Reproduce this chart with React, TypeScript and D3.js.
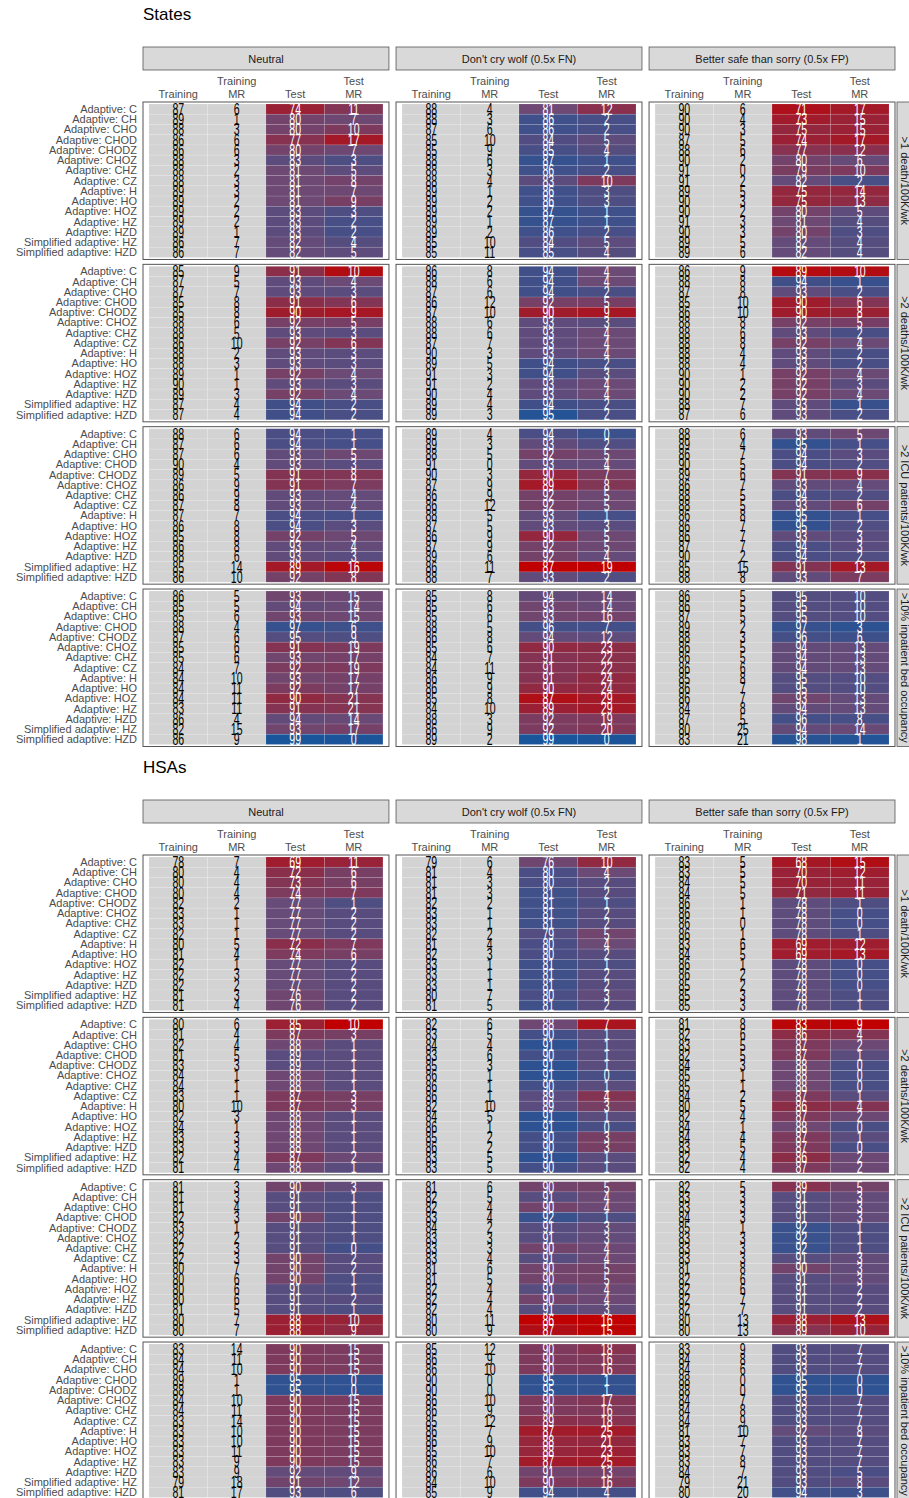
import * as d3 from "d3";

const models = [
  "Adaptive: C", "Adaptive: CH", "Adaptive: CHO", "Adaptive: CHOD", "Adaptive: CHODZ",
  "Adaptive: CHOZ", "Adaptive: CHZ", "Adaptive: CZ", "Adaptive: H", "Adaptive: HO",
  "Adaptive: HOZ", "Adaptive: HZ", "Adaptive: HZD", "Simplified adaptive: HZ", "Simplified adaptive: HZD",
];
const weightings = ["Neutral", "Don't cry wolf (0.5x FN)", "Better safe than sorry (0.5x FP)"];
const outcomes = [">1 death/100K/wk", ">2 deaths/100K/wk", ">2 ICU patients/100K/wk", ">10% inpatient bed occupancy"];
const measures = ["Training", "Training MR", "Test", "Test MR"];

// each panel: [Training, Training MR, Test, Test MR]
const statesD1Neutral = [
  [87, 89, 88, 86, 86, 88, 88, 88, 89, 89, 89, 89, 89, 86, 86],
  [6, 1, 3, 6, 6, 3, 2, 3, 3, 2, 2, 2, 1, 7, 7],
  [74, 80, 80, 77, 80, 83, 81, 81, 81, 81, 83, 83, 83, 82, 82],
  [11, 7, 10, 17, 7, 3, 5, 8, 7, 9, 3, 2, 2, 4, 5],
];
const statesD1Wolf = [
  [88, 88, 87, 85, 85, 88, 88, 88, 89, 89, 89, 89, 89, 85, 85],
  [4, 3, 6, 10, 9, 6, 3, 4, 1, 2, 2, 1, 2, 10, 11],
  [81, 86, 86, 84, 85, 87, 86, 83, 86, 86, 87, 87, 86, 84, 85],
  [12, 2, 2, 5, 4, 1, 2, 10, 3, 3, 1, 1, 2, 5, 4],
];
const statesD1Safe = [
  [90, 90, 90, 87, 88, 90, 91, 91, 89, 90, 90, 91, 90, 89, 89],
  [6, 4, 3, 5, 6, 2, 0, 2, 5, 3, 2, 3, 3, 5, 6],
  [71, 73, 75, 74, 77, 80, 79, 82, 75, 75, 80, 81, 80, 82, 82],
  [17, 15, 15, 17, 12, 6, 10, 2, 14, 13, 5, 4, 3, 4, 4],
];
const statesD2Neutral = [
  [85, 87, 87, 85, 85, 88, 88, 86, 88, 88, 89, 90, 89, 87, 87],
  [9, 5, 7, 8, 8, 6, 5, 10, 2, 3, 1, 1, 3, 4, 4],
  [91, 93, 93, 91, 90, 92, 93, 92, 93, 93, 92, 93, 92, 94, 94],
  [10, 4, 3, 6, 9, 5, 3, 6, 3, 3, 4, 3, 4, 2, 2],
];
const statesD2Wolf = [
  [86, 88, 87, 86, 87, 88, 88, 87, 90, 89, 91, 91, 90, 89, 89],
  [8, 6, 6, 12, 10, 6, 6, 7, 3, 5, 3, 2, 4, 4, 3],
  [94, 94, 94, 92, 90, 93, 93, 93, 93, 94, 94, 93, 93, 94, 95],
  [4, 4, 2, 5, 9, 3, 4, 4, 4, 2, 3, 4, 4, 2, 2],
];
const statesD2Safe = [
  [86, 88, 87, 85, 86, 88, 88, 88, 88, 88, 90, 90, 90, 88, 87],
  [9, 8, 8, 10, 10, 8, 6, 8, 4, 4, 1, 2, 2, 7, 6],
  [89, 94, 93, 90, 90, 92, 93, 92, 93, 93, 92, 92, 92, 93, 93],
  [10, 1, 2, 6, 8, 5, 2, 4, 2, 2, 4, 3, 4, 1, 2],
];
const statesIcuNeutral = [
  [88, 87, 87, 90, 89, 86, 86, 87, 87, 86, 85, 86, 88, 85, 86],
  [6, 6, 6, 4, 5, 9, 9, 8, 7, 8, 8, 8, 6, 14, 10],
  [94, 94, 93, 93, 91, 91, 93, 93, 94, 94, 92, 93, 93, 89, 92],
  [1, 1, 5, 3, 8, 7, 4, 4, 1, 3, 5, 4, 3, 16, 8],
];
const statesIcuWolf = [
  [89, 89, 88, 91, 90, 87, 86, 86, 88, 87, 86, 87, 89, 86, 88],
  [4, 3, 5, 0, 3, 9, 9, 12, 5, 5, 9, 9, 6, 11, 7],
  [94, 93, 92, 93, 90, 89, 92, 92, 93, 93, 90, 92, 92, 87, 93],
  [0, 2, 5, 4, 7, 8, 5, 5, 1, 3, 5, 5, 4, 19, 2],
];
const statesIcuSafe = [
  [88, 89, 86, 90, 89, 86, 88, 88, 86, 86, 86, 87, 90, 85, 88],
  [6, 4, 7, 5, 6, 7, 5, 5, 8, 7, 7, 7, 2, 15, 8],
  [93, 95, 94, 94, 91, 93, 94, 93, 95, 95, 93, 94, 94, 91, 93],
  [5, 1, 3, 2, 9, 4, 2, 6, 1, 2, 3, 3, 2, 13, 7],
];
const statesBedNeutral = [
  [86, 85, 85, 88, 87, 85, 85, 84, 84, 84, 84, 83, 86, 82, 86],
  [5, 5, 6, 4, 6, 6, 6, 7, 10, 11, 11, 11, 4, 15, 9],
  [93, 94, 93, 97, 95, 91, 93, 92, 93, 92, 90, 91, 94, 93, 99],
  [15, 14, 15, 6, 9, 19, 17, 19, 17, 17, 21, 21, 14, 17, 0],
];
const statesBedWolf = [
  [85, 85, 85, 88, 86, 85, 84, 84, 86, 86, 85, 84, 88, 86, 89],
  [8, 6, 6, 5, 8, 6, 7, 11, 9, 9, 8, 10, 3, 9, 2],
  [94, 93, 93, 96, 94, 90, 91, 91, 91, 90, 87, 89, 92, 92, 99],
  [14, 14, 16, 7, 12, 23, 22, 22, 24, 24, 29, 29, 19, 20, 0],
];
const statesBedSafe = [
  [86, 86, 87, 89, 88, 86, 86, 86, 85, 86, 86, 84, 87, 80, 83],
  [5, 5, 5, 2, 3, 5, 5, 6, 8, 7, 7, 8, 5, 25, 21],
  [95, 95, 95, 97, 96, 94, 94, 94, 95, 95, 93, 94, 96, 94, 98],
  [10, 10, 10, 3, 6, 13, 13, 13, 10, 10, 13, 13, 8, 14, 1],
];

const hsaD1Neutral = [
  [78, 80, 80, 80, 82, 83, 83, 82, 80, 81, 82, 82, 82, 81, 81],
  [7, 4, 4, 4, 2, 1, 1, 1, 5, 4, 1, 3, 2, 3, 4],
  [69, 72, 73, 74, 77, 77, 77, 77, 72, 74, 77, 77, 77, 76, 76],
  [11, 6, 6, 7, 1, 2, 2, 2, 7, 6, 2, 2, 2, 2, 2],
];
const hsaD1Wolf = [
  [79, 81, 81, 81, 82, 83, 83, 82, 81, 82, 83, 83, 83, 80, 81],
  [6, 4, 3, 3, 2, 1, 1, 2, 4, 3, 1, 1, 1, 7, 5],
  [76, 80, 80, 81, 81, 81, 81, 79, 80, 80, 81, 81, 81, 80, 81],
  [10, 4, 2, 2, 1, 2, 2, 5, 4, 2, 1, 2, 2, 3, 2],
];
const hsaD1Safe = [
  [83, 83, 84, 84, 86, 86, 86, 86, 83, 84, 86, 86, 85, 85, 85],
  [5, 5, 5, 5, 1, 1, 0, 1, 6, 5, 1, 2, 2, 3, 3],
  [68, 70, 70, 71, 78, 78, 78, 78, 69, 69, 78, 78, 78, 78, 78],
  [15, 12, 11, 11, 1, 0, 0, 1, 12, 13, 0, 0, 0, 1, 1],
];
const hsaD2Neutral = [
  [80, 81, 82, 81, 83, 84, 84, 83, 80, 82, 84, 83, 83, 82, 81],
  [6, 4, 4, 5, 3, 1, 1, 1, 10, 3, 1, 3, 3, 4, 4],
  [85, 87, 88, 89, 89, 88, 88, 87, 87, 88, 88, 88, 88, 87, 88],
  [10, 3, 1, 1, 1, 1, 1, 3, 3, 1, 1, 1, 1, 2, 1],
];
const hsaD2Wolf = [
  [82, 83, 84, 83, 85, 86, 86, 86, 82, 84, 86, 85, 86, 83, 83],
  [6, 5, 4, 6, 3, 1, 1, 1, 10, 5, 1, 2, 2, 5, 5],
  [88, 90, 91, 90, 91, 91, 90, 89, 89, 91, 91, 90, 90, 91, 90],
  [7, 1, 1, 1, 1, 0, 1, 4, 3, 1, 0, 3, 3, 1, 1],
];
const hsaD2Safe = [
  [81, 82, 83, 82, 84, 85, 85, 84, 80, 82, 84, 84, 83, 82, 82],
  [8, 6, 5, 5, 3, 1, 1, 2, 5, 4, 1, 4, 5, 4, 4],
  [83, 86, 87, 87, 88, 88, 88, 87, 86, 87, 88, 87, 87, 86, 87],
  [9, 4, 2, 1, 0, 0, 0, 1, 4, 2, 0, 1, 0, 2, 2],
];
const hsaIcuNeutral = [
  [81, 81, 81, 82, 83, 82, 82, 82, 80, 80, 80, 80, 81, 80, 80],
  [3, 3, 4, 3, 1, 2, 3, 3, 7, 6, 6, 6, 5, 7, 7],
  [90, 91, 91, 90, 91, 91, 91, 90, 90, 90, 91, 91, 91, 88, 88],
  [3, 1, 1, 1, 1, 1, 0, 2, 2, 1, 1, 2, 1, 10, 9],
];
const hsaIcuWolf = [
  [81, 82, 82, 83, 84, 83, 83, 83, 81, 81, 82, 82, 82, 80, 80],
  [6, 5, 4, 4, 2, 3, 3, 4, 6, 5, 4, 4, 4, 11, 9],
  [90, 91, 90, 92, 91, 91, 90, 91, 90, 90, 91, 90, 91, 86, 87],
  [5, 4, 4, 1, 3, 3, 4, 4, 5, 5, 4, 4, 3, 16, 15],
];
const hsaIcuSafe = [
  [82, 83, 83, 84, 85, 83, 83, 83, 81, 82, 82, 82, 82, 80, 80],
  [5, 3, 3, 3, 1, 3, 3, 3, 8, 6, 6, 7, 7, 13, 13],
  [89, 91, 91, 91, 92, 92, 92, 91, 90, 91, 91, 91, 91, 88, 89],
  [5, 3, 3, 3, 1, 1, 1, 3, 3, 3, 2, 2, 2, 13, 10],
];
const hsaBedNeutral = [
  [83, 84, 84, 89, 88, 84, 84, 83, 83, 83, 83, 83, 83, 79, 81],
  [14, 11, 10, 1, 1, 10, 11, 14, 10, 10, 11, 9, 9, 18, 17],
  [90, 90, 90, 95, 95, 90, 90, 90, 90, 90, 90, 90, 92, 91, 93],
  [15, 15, 15, 0, 0, 15, 15, 15, 15, 15, 15, 15, 9, 12, 6],
];
const hsaBedWolf = [
  [85, 86, 86, 90, 90, 86, 86, 85, 86, 86, 85, 86, 86, 84, 85],
  [12, 9, 10, 0, 0, 10, 9, 12, 7, 9, 10, 7, 6, 10, 9],
  [90, 90, 90, 95, 95, 90, 90, 89, 87, 88, 88, 87, 91, 90, 94],
  [18, 16, 16, 1, 1, 17, 16, 18, 25, 21, 23, 25, 13, 16, 4],
];
const hsaBedSafe = [
  [83, 84, 84, 88, 88, 84, 84, 84, 81, 83, 83, 83, 84, 79, 80],
  [9, 8, 6, 0, 0, 7, 8, 9, 10, 7, 7, 8, 7, 21, 20],
  [93, 93, 93, 95, 95, 93, 93, 93, 92, 93, 93, 93, 93, 93, 94],
  [7, 7, 7, 0, 0, 7, 7, 7, 8, 7, 7, 7, 5, 8, 3],
];

const statesPanels = [
  [statesD1Neutral, statesD1Wolf, statesD1Safe],
  [statesD2Neutral, statesD2Wolf, statesD2Safe],
  [statesIcuNeutral, statesIcuWolf, statesIcuSafe],
  [statesBedNeutral, statesBedWolf, statesBedSafe],
];
const hsaPanels = [
  [hsaD1Neutral, hsaD1Wolf, hsaD1Safe],
  [hsaD2Neutral, hsaD2Wolf, hsaD2Safe],
  [hsaIcuNeutral, hsaIcuWolf, hsaIcuSafe],
  [hsaBedNeutral, hsaBedWolf, hsaBedSafe],
];

const FONT = "'Liberation Sans', Arial, Helvetica, sans-serif";

// red = worse, blue = better (z-score within each outcome row)
const fillScale = d3
  .scaleLinear<string>()
  .domain([-3.2, 0, 2.8])
  .range(["#c00000", "#6b4a76", "#0058a6"])
  .interpolate(d3.interpolateRgb)
  .clamp(true);

function Section({ title, panels, top }: { title: string; panels: number[][][][]; top: number }) {
  const fx = d3.scaleBand<string>().domain(weightings).range([143, 895]).paddingInner(0.028);
  const fy = d3.scaleBand<string>().domain(outcomes).range([102, 746.5]).paddingInner(0.03);
  const cx = d3.scaleBand<string>().domain(measures).range([6, fx.bandwidth() - 6]);
  const ry = d3.scaleBand<string>().domain(models).range([2, fy.bandwidth() - 2]);

  return (
    <g transform={`translate(0,${top})`}>
      <text x={143} y={20} fontSize={17} fill="#000">{title}</text>

      {weightings.map((w) => (
        <g key={w} transform={`translate(${fx(w)},0)`}>
          <rect x={0} y={47} width={fx.bandwidth()} height={23} fill="#d9d9d9" stroke="#555" strokeWidth={0.8} />
          <text x={fx.bandwidth() / 2} y={62.5} textAnchor="middle" fontSize={11} fill="#1a1a1a">{w}</text>
          {measures.map((m) => {
            const parts = m.split(" ");
            const x = (cx(m) ?? 0) + cx.bandwidth() / 2;
            return (
              <text key={m} x={x} textAnchor="middle" fontSize={11} fill="#4d4d4d">
                {parts.length === 1 ? (
                  <tspan x={x} y={98}>{parts[0]}</tspan>
                ) : (
                  <>
                    <tspan x={x} y={85}>{parts[0]}</tspan>
                    <tspan x={x} y={98}>{parts[1]}</tspan>
                  </>
                )}
              </text>
            );
          })}
        </g>
      ))}

      {outcomes.map((o, oi) => {
        const testAll = panels[oi].flatMap((p) => p[2]);
        const mrAll = panels[oi].flatMap((p) => p[3]);
        const tMean = d3.mean(testAll) ?? 0;
        const tSd = d3.deviation(testAll) || 1;
        const mMean = d3.mean(mrAll) ?? 0;
        const mSd = d3.deviation(mrAll) || 1;
        const y0 = fy(o) ?? 0;
        return (
          <g key={o} transform={`translate(0,${y0})`}>
            {models.map((name) => (
              <text
                key={name}
                x={137}
                y={(ry(name) ?? 0) + ry.bandwidth() / 2}
                dy="0.35em"
                textAnchor="end"
                fontSize={11}
                fill="#4d4d4d"
              >
                {name}
              </text>
            ))}
            {weightings.map((w, wi) => {
              const panel = panels[oi][wi];
              return (
                <g key={w} transform={`translate(${fx(w)},0)`}>
                  <rect x={0} y={0} width={fx.bandwidth()} height={fy.bandwidth()} fill="#fff" />
                  {measures.map((m, mi) =>
                    panel[mi].map((v, ri) => {
                      let fill = "#d3d3d3";
                      if (mi === 2) fill = fillScale((v - tMean) / tSd);
                      if (mi === 3) fill = fillScale(-(v - mMean) / mSd);
                      return (
                        <rect
                          key={`${m}-${ri}`}
                          x={cx(m) ?? 0}
                          y={ry(models[ri]) ?? 0}
                          width={cx.bandwidth()}
                          height={ry.bandwidth()}
                          fill={fill}
                          stroke="#ffffff"
                          strokeOpacity={0.18}
                          strokeWidth={0.6}
                        />
                      );
                    })
                  )}
                  {measures.map((m, mi) =>
                    panel[mi].map((v, ri) => {
                      const x = (cx(m) ?? 0) + cx.bandwidth() / 2;
                      const y = (ry(models[ri]) ?? 0) + ry.bandwidth() / 2;
                      return (
                        <text
                          key={`t-${m}-${ri}`}
                          transform={`translate(${x},${y}) scale(0.66,1)`}
                          dy="0.36em"
                          textAnchor="middle"
                          fontSize={16}
                          fill={mi >= 2 ? "#ffffff" : "#000000"}
                        >
                          {v}
                        </text>
                      );
                    })
                  )}
                  <rect x={0} y={0} width={fx.bandwidth()} height={fy.bandwidth()} fill="none" stroke="#555" strokeWidth={1} />
                </g>
              );
            })}
            <rect x={897} y={0} width={20} height={fy.bandwidth()} fill="#d9d9d9" stroke="#555" strokeWidth={0.8} />
            <text
              transform={`translate(905,${fy.bandwidth() / 2}) rotate(90)`}
              textAnchor="middle"
              dy="0.35em"
              fontSize={11}
              fill="#1a1a1a"
            >
              {o}
            </text>
          </g>
        );
      })}
    </g>
  );
}

export default function App() {
  return (
    <svg
      width={909}
      height={1498}
      fontFamily={FONT}
      style={{ position: "absolute", left: 0, top: 0, display: "block", background: "#fff" }}
    >
      <rect width={909} height={1498} fill="#fff" />
      <Section title="States" panels={statesPanels} top={0} />
      <Section title="HSAs" panels={hsaPanels} top={753} />
    </svg>
  );
}
